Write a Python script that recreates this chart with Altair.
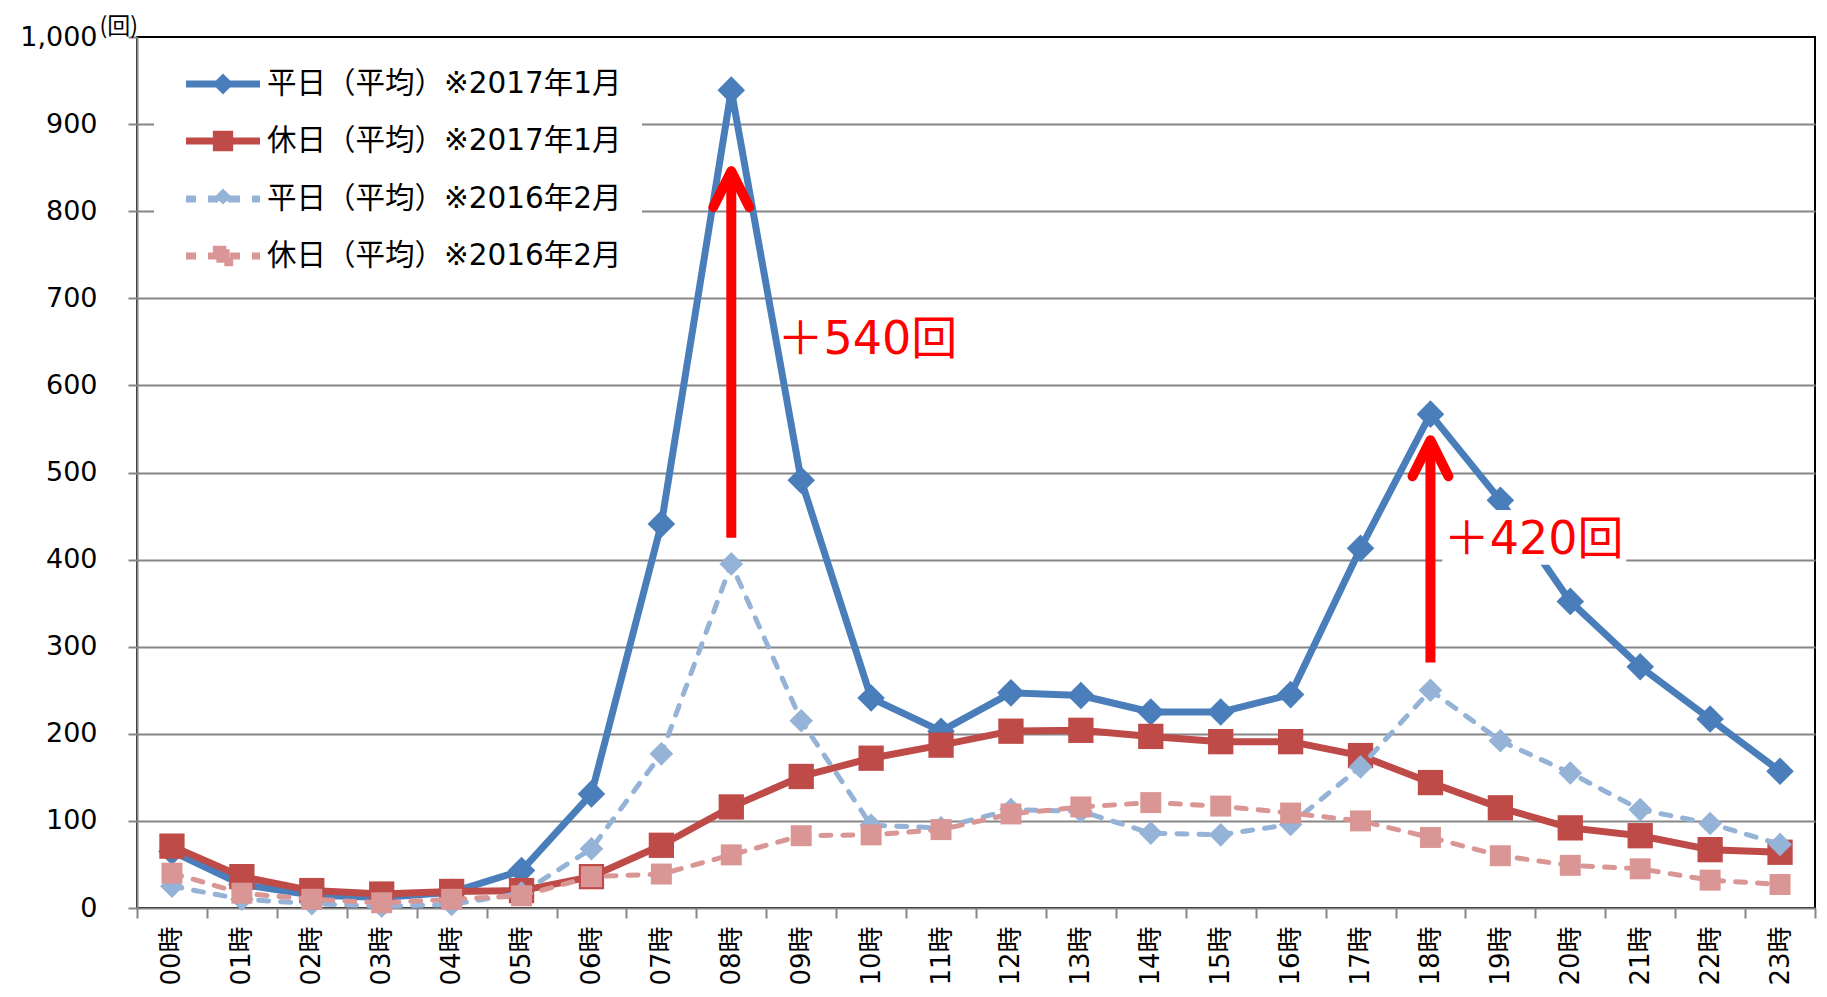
import altair as alt
import pandas as pd

# ---- data ----
hours = list(range(24))
series = [
    "平日（平均）※2017年1月",
    "休日（平均）※2017年1月",
    "平日（平均）※2016年2月",
    "休日（平均）※2016年2月",
]
weekday_2017 = [65, 27, 15, 12, 18, 43, 131, 441, 939, 491, 241, 203, 247, 244, 225, 225, 245, 413, 567, 468, 352, 277, 217, 157]
holiday_2017 = [71, 36, 20, 16, 19, 20, 36, 72, 116, 151, 172, 187, 203, 204, 197, 191, 191, 175, 144, 115, 92, 83, 67, 64]
weekday_2016 = [25, 10, 5, 2, 4, 17, 68, 177, 395, 215, 95, 92, 113, 111, 86, 84, 96, 162, 250, 192, 155, 113, 97, 73]
holiday_2016 = [40, 17, 10, 6, 10, 14, 36, 39, 61, 83, 84, 90, 108, 116, 121, 117, 109, 100, 81, 60, 49, 45, 32, 27]

# annotations (in data units)
arrow_hours = [8, 18]
arrow_from = [425, 282]
arrow_to = [846, 537]
label_hours = [8.66, 18.19]
label_values = [652, 423]
label_texts = ["＋540回", "＋420回"]
mask_x1 = [18.17]
mask_x2 = [20.80]
mask_y1 = [394]
mask_y2 = [457]

colors = ["#4A7EBB", "#BE4B48", "#95B3D7", "#D99694"]
all_values = [weekday_2017, holiday_2017, weekday_2016, holiday_2016]

rows = []
for name, vals in zip(series, all_values):
    for h, v in zip(hours, vals):
        rows.append({"hour": h, "value": v, "series": name})
df = pd.DataFrame(rows)

arrows = pd.DataFrame({"hour": arrow_hours, "value": arrow_from, "value2": arrow_to})
tips = pd.DataFrame({"hour": arrow_hours, "value": arrow_to})
labels = pd.DataFrame({"hour": label_hours, "value": label_values, "text": label_texts})
mask = pd.DataFrame({"hour": mask_x1, "hour2": mask_x2, "value": mask_y1, "value2": mask_y2})

GRAY = "#868686"
NUM_FONT = "DejaVu Sans, Noto Sans CJK JP"

xscale = alt.Scale(domain=[-0.5, 23.5], nice=False, zero=False)
yscale = alt.Scale(domain=[0, 1000], nice=False, zero=True)

xaxis = alt.Axis(
    values=[i * 0.5 - 0.5 for i in range(49)],
    labelExpr="datum.value % 1 === 0 ? (datum.value < 10 ? '0' : '') + datum.value + '時' : ''",
    labelAngle=270,
    labelFont=NUM_FONT,
    labelFontSize=26,
    labelColor="black",
    labelOverlap=False,
    labelBound=False,
    labelFlush=False,
    labelPadding=8,
    tickSize=10,
    tickWidth=2,
    tickColor=GRAY,
    tickOpacity={"condition": {"test": "datum.value % 1 !== 0", "value": 1}, "value": 0},
    domainColor=GRAY,
    domainWidth=2,
    grid=False,
)
yaxis = alt.Axis(
    values=list(range(0, 1001, 100)),
    format=",.0f",
    labelFont=NUM_FONT,
    labelFontSize=27,
    labelColor="black",
    labelPadding=31,
    tickSize=9,
    tickWidth=2,
    tickColor=GRAY,
    domainColor=GRAY,
    domainWidth=2,
    grid=True,
    gridColor=GRAY,
    gridWidth=2,
    gridOpacity={"condition": {"test": "datum.value > 0 && datum.value < 1000", "value": 1}, "value": 0},
    titleAngle=0,
    titleAlign="left",
    titleBaseline="middle",
    titleX=-38,
    titleY=-11,
    titleFont="Noto Sans CJK JP",
    titleFontSize=23,
    titleFontWeight="normal",
    titleColor="black",
)

X = alt.X("hour:Q", scale=xscale, axis=xaxis, title=None)
Y = alt.Y("value:Q", scale=yscale, axis=yaxis, title="(回)")

styles = [
    dict(width=7, dash=None, shape="diamond", size=760),
    dict(width=7, dash=None, shape="square", size=640),
    dict(width=5, dash=[10, 12], shape="diamond", size=560),
    dict(width=5, dash=[10, 12], shape="square", size=440),
]

layers = []
for name, col, st in zip(series, colors, styles):
    sub = df[df["series"] == name]
    line_kw = dict(color=col, strokeWidth=st["width"], strokeJoin="round", strokeCap="round")
    if st["dash"]:
        line_kw["strokeDash"] = st["dash"]
    layers.append(alt.Chart(sub).mark_line(**line_kw).encode(x=X, y=Y))
    layers.append(
        alt.Chart(sub)
        .mark_point(shape=st["shape"], size=st["size"], filled=True, color=col, opacity=1, strokeWidth=0)
        .encode(x=X, y=Y)
    )

# legend (ghost layer: marks fall outside the clipped plot, only legend is shown)
legend_paths = [
    "M-0.54,0L3.46,0M1.46,-0.3L1.76,0L1.46,0.3L1.16,0Z",
    "M-0.54,0L3.46,0M1.1,-0.36L1.82,-0.36L1.82,0.36L1.1,0.36Z",
    "M-0.54,0L3.46,0M1.46,-0.3L1.76,0L1.46,0.3L1.16,0Z",
    "M-0.54,0L3.46,0M1.1,-0.36L1.82,-0.36L1.82,0.36L1.1,0.36Z",
]
leg = alt.Legend(
    title=None,
    orient="none",
    legendX=17,
    legendY=5,
    fillColor="white",
    padding=20,
    symbolSize=1369,
    symbolStrokeWidth=7,
    labelFont=NUM_FONT,
    labelFontSize=29.5,
    labelColor="black",
    labelLimit=1000,
    rowPadding=15,
    labelOffset=49,
)
ghost = (
    alt.Chart(df)
    .transform_calculate(ghost="-500")
    .mark_point(filled=True, clip=True, opacity=1)
    .encode(
        x=X,
        y=alt.Y("ghost:Q", scale=yscale, axis=yaxis, title="(回)"),
        fill=alt.Fill("series:N", scale=alt.Scale(domain=series, range=colors), legend=leg),
        stroke=alt.Stroke("series:N", scale=alt.Scale(domain=series, range=colors), legend=leg),
        shape=alt.Shape("series:N", scale=alt.Scale(domain=series, range=legend_paths), legend=leg),
        strokeDash=alt.StrokeDash(
            "series:N",
            scale=alt.Scale(domain=series, range=[[1, 0], [1, 0], [10, 12], [10, 12]]),
            legend=leg,
        ),
    )
)
layers.append(ghost)

# annotations
layers.append(
    alt.Chart(mask).mark_rect(color="white").encode(
        x=X, x2="hour2:Q", y=Y, y2="value2:Q"
    )
)
layers.append(
    alt.Chart(arrows).mark_rule(color="#FF0000", strokeWidth=10).encode(x=X, y=Y, y2="value2:Q")
)
layers.append(
    alt.Chart(tips)
    .mark_point(
        shape="M-0.5,1L0,0L0.5,1",
        size=5184,
        filled=False,
        color="#FF0000",
        strokeWidth=10,
        strokeCap="round",
        strokeJoin="round",
        opacity=1,
    )
    .encode(x=X, y=Y)
)
layers.append(
    alt.Chart(labels)
    .mark_text(align="left", baseline="middle", color="#FF0000", fontSize=46, font=NUM_FONT)
    .encode(x=X, y=Y, text="text:N")
)

chart = (
    alt.layer(*layers)
    .properties(
        width=1678,
        height=871,
        padding={"left": 129, "top": 29, "right": 4, "bottom": 81},
        autosize=alt.AutoSizeParams(type="none"),
    )
    .configure_view(stroke="black", strokeWidth=2)
)

chart.save("out.html", embed_options={"renderer": "svg", "actions": False})
